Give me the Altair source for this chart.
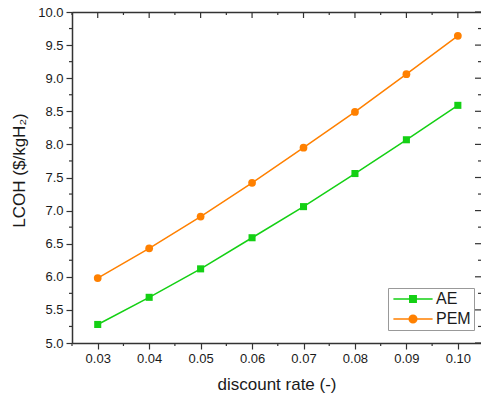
import altair as alt
import pandas as pd

# ---- data ----
rates = [0.03, 0.04, 0.05, 0.06, 0.07, 0.08, 0.09, 0.10]
ae_values = [5.28, 5.69, 6.12, 6.59, 7.06, 7.56, 8.07, 8.59]
pem_values = [5.98, 6.43, 6.91, 7.42, 7.95, 8.49, 9.06, 9.64]
series_names = ["AE", "PEM"]
series_colors = ["#14d014", "#ff8000"]
series_markers = ["square", "circle"]

x_major = [0.03, 0.04, 0.05, 0.06, 0.07, 0.08, 0.09, 0.10]
x_minor = [0.025, 0.035, 0.045, 0.055, 0.065, 0.075, 0.085, 0.095]
y_major = [5.0, 5.5, 6.0, 6.5, 7.0, 7.5, 8.0, 8.5, 9.0, 9.5, 10.0]
y_minor = [5.25, 5.75, 6.25, 6.75, 7.25, 7.75, 8.25, 8.75, 9.25, 9.75]

W, H = 409, 331
FONT = "Liberation Sans"
AXC = "#333333"
TXT = "#1a1a1a"

df = pd.DataFrame({
    "rate": rates * 2,
    "value": ae_values + pem_values,
    "series": ["AE"] * len(rates) + ["PEM"] * len(rates),
})

xscale = alt.Scale(domain=[0.025, 0.1045], nice=False, zero=False)
yscale = alt.Scale(domain=[5.0, 10.0], nice=False, zero=False)

x_axis = alt.Axis(
    values=x_major, format=".2f", title="discount rate (-)",
    tickSize=6, tickColor=AXC, tickWidth=1.2, domainColor=AXC, domainWidth=1.5,
    labelFontSize=13, labelPadding=3, labelFlush=False, labelOverlap=False,
    titleFontSize=17, titleFontWeight="normal", titlePadding=11, grid=False)
y_axis = alt.Axis(
    values=y_major, format=".1f", title="LCOH ($/kgH₂)",
    tickSize=6, tickColor=AXC, tickWidth=1.2, domainColor=AXC, domainWidth=1.5,
    labelFontSize=13, labelPadding=3, labelFlush=False, labelOverlap=False,
    titleFontSize=17, titleFontWeight="normal",
    titleX=-53, titleY=158, titleBaseline="middle", grid=False)

base = alt.Chart(df)
layers = []
for i, (name, col, mk) in enumerate(zip(series_names, series_colors, series_markers)):
    sub = base.transform_filter(alt.datum.series == name)
    line = sub.mark_line(strokeWidth=1.5, color=col).encode(
        x=alt.X("rate:Q", scale=xscale, axis=x_axis if i == 0 else None),
        y=alt.Y("value:Q", scale=yscale, axis=y_axis if i == 0 else None),
    )
    pts = sub.mark_point(shape=mk, filled=True, opacity=1, color=col,
                         size=50 if mk == "square" else 60).encode(
        x=alt.X("rate:Q", scale=xscale, axis=None),
        y=alt.Y("value:Q", scale=yscale, axis=None),
    )
    layers += [line, pts]

# legend: symbols are a short line with the marker on it
legend_shapes = [
    "M-4.9,0H4.9M-0.8,-0.8H0.8V0.8H-0.8Z",
    "M-4.9,0H4.9M0.95,0A0.95,0.95 0 1,1 -0.95,0A0.95,0.95 0 1,1 0.95,0Z",
]
leg = alt.Legend(
    title=None, orient="none", legendX=316, legendY=276,
    symbolSize=64, symbolStrokeWidth=1.5, symbolOpacity=1,
    symbolOffset=14, labelOffset=15,
    labelFont=FONT, labelFontSize=16, labelColor=TXT,
    labelExpr="datum.label + '\u00a0\u00a0'",
    padding=3, rowPadding=4,
    strokeColor="#999999", fillColor="white",
)
legend_layer = base.mark_point(opacity=0).encode(
    x=alt.X("rate:Q", scale=xscale, axis=None),
    y=alt.Y("value:Q", scale=yscale, axis=None),
    fill=alt.Fill("series:N", scale=alt.Scale(domain=series_names, range=series_colors), legend=leg),
    stroke=alt.Stroke("series:N", scale=alt.Scale(domain=series_names, range=series_colors), legend=leg),
    shape=alt.Shape("series:N", scale=alt.Scale(domain=series_names, range=legend_shapes), legend=leg),
)
layers.append(legend_layer)

# minor / mirrored tick marks
def hrule(values, x0, x1):
    return alt.Chart(pd.DataFrame({"v": values})).mark_rule(color=AXC, strokeWidth=1.2).encode(
        y=alt.Y("v:Q", scale=yscale, axis=None),
        x=alt.value(x0), x2=alt.value(x1),
    )

def vrule(values, y0, y1, axis=None):
    return alt.Chart(pd.DataFrame({"v": values})).mark_rule(color=AXC, strokeWidth=1.2).encode(
        x=alt.X("v:Q", scale=xscale, axis=axis),
        y=alt.value(y0), y2=alt.value(y1),
    )

top_axis = alt.Axis(orient="top", labels=False, ticks=False, title=None,
                    domainColor=AXC, domainWidth=1.5, grid=False)

layers += [
    hrule(y_minor, -3, 0),
    vrule(x_minor, H, H + 3),
    vrule(x_major, 0, 6, axis=top_axis),
    vrule(x_minor, 0, 3),
    hrule(y_major, W - 6, W),
    hrule(y_minor, W - 3, W),
]

chart = alt.layer(*layers).resolve_axis(
    x="independent", y="independent"
).properties(
    width=W, height=H,
    padding={"left": 72, "top": 12, "right": 0, "bottom": 56},
    autosize=alt.AutoSizeParams(type="none"),
    background="white",
).configure_view(stroke=None).configure_axis(
    labelFont=FONT, titleFont=FONT, labelColor=TXT, titleColor=TXT
).configure_legend(labelFont=FONT)

chart.save("out.html", embed_options={"renderer": "svg", "actions": False})
